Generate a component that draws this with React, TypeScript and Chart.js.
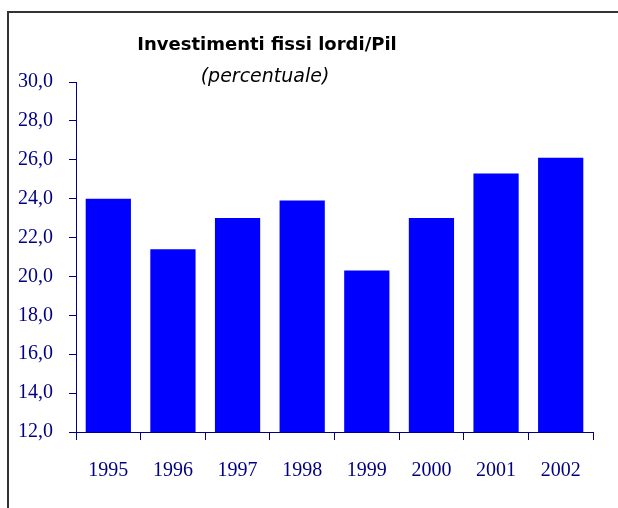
import React, { useEffect, useRef } from "react";
import { Chart, registerables } from "chart.js";

Chart.register(...registerables);

const years = ["1995", "1996", "1997", "1998", "1999", "2000", "2001", "2002"];
const values = [24.0, 21.4, 23.0, 23.9, 20.3, 23.0, 25.3, 26.1];
const yMin = 12;
const yMax = 30;
const yStep = 2;
const titleText = "Investimenti fissi lordi/Pil";
const subtitleText = "(percentuale)";

const NAVY = "#000080";

const titlePlugin = {
  id: "customTitle",
  afterDraw(chart: any) {
    const ctx = chart.ctx;
    ctx.save();
    ctx.fillStyle = "#000000";
    ctx.textAlign = "center";
    ctx.textBaseline = "middle";
    ctx.font = "bold 18px 'DejaVu Sans'";
    ctx.fillText(titleText, 267, 45);
    ctx.font = "italic 19px 'DejaVu Sans'";
    ctx.fillText(subtitleText, 265, 77);
    ctx.restore();
  },
};

export default function App() {
  const ref = useRef<HTMLCanvasElement | null>(null);

  useEffect(() => {
    if (!ref.current) return;
    const chart = new Chart(ref.current, {
      type: "bar",
      data: {
        labels: years,
        datasets: [
          {
            data: values,
            backgroundColor: "#0000FF",
            borderWidth: 0,
            barPercentage: 0.7,
            categoryPercentage: 1,
          },
        ],
      },
      options: {
        responsive: false,
        animation: false,
        layout: { padding: { left: 0, top: 82, right: 25, bottom: 0 } },
        plugins: {
          legend: { display: false },
          title: { display: false },
          tooltip: { enabled: false },
        },
        scales: {
          x: {
            afterFit: (s: any) => {
              s.height = 76;
            },
            grid: {
              drawOnChartArea: false,
              drawTicks: true,
              tickLength: 8,
              color: NAVY,
              offset: true,
            },
            border: { color: NAVY, width: 1 },
            ticks: {
              color: NAVY,
              padding: 19,
              font: { family: "'Liberation Serif'", size: 20 },
            },
          },
          y: {
            min: yMin,
            max: yMax,
            afterFit: (s: any) => {
              s.width = 76;
            },
            grid: {
              drawOnChartArea: false,
              drawTicks: true,
              tickLength: 7,
              color: NAVY,
            },
            border: { color: NAVY, width: 1 },
            ticks: {
              stepSize: yStep,
              color: NAVY,
              padding: 16,
              font: { family: "'Liberation Serif'", size: 20 },
              callback: (v: any) => Number(v).toFixed(1).replace(".", ","),
            },
          },
        },
      },
      plugins: [titlePlugin],
    });
    return () => chart.destroy();
  }, []);

  return (
    <div style={{ position: "fixed", left: 0, top: 0, width: 618, height: 508, background: "#fff", overflow: "hidden" }}>
      <div
        style={{
          position: "absolute",
          left: 7,
          top: 11,
          width: 700,
          height: 600,
          borderLeft: "2px solid #333",
          borderTop: "2px solid #333",
        }}
      />
      <canvas ref={ref} width={618} height={508} style={{ position: "absolute", left: 0, top: 0 }} />
    </div>
  );
}
